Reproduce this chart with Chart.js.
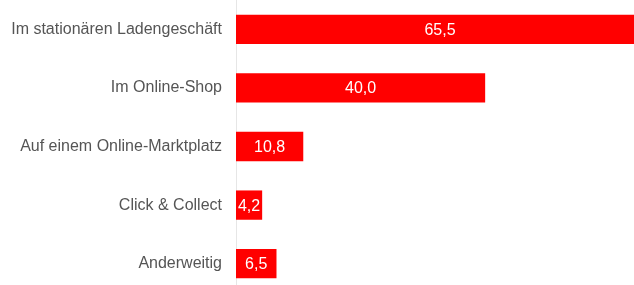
<!DOCTYPE html>
<html>
<head>
<meta charset="utf-8">
<script src="https://cdn.jsdelivr.net/npm/chart.js@4/dist/chart.umd.min.js"></script>
<style>
  html, body { margin: 0; padding: 0; background: #fff; overflow: hidden; }
  #wrap { width: 644px; height: 293px; }
</style>
</head>
<body>
<div id="wrap"><canvas id="chart1" width="644" height="293"></canvas></div>
<script>
// Kanäle und Anteile (%)
var kategorien = ['Im stationären Ladengeschäft', 'Im Online-Shop', 'Auf einem Online-Marktplatz', 'Click & Collect', 'Anderweitig'];
var werte = [65.5, 40.0, 10.8, 4.2, 6.5];

// Werte mittig in die Balken schreiben
var wertLabels = {
  id: 'wertLabels',
  afterDatasetsDraw: function (chart) {
    var ctx = chart.ctx;
    var meta = chart.getDatasetMeta(0);
    ctx.save();
    ctx.fillStyle = '#ffffff';
    ctx.font = '16px "Liberation Sans", Arial, sans-serif';
    ctx.textAlign = 'center';
    ctx.textBaseline = 'middle';
    meta.data.forEach(function (bar, i) {
      var txt = werte[i].toLocaleString('de-DE', { minimumFractionDigits: 1, maximumFractionDigits: 1 });
      ctx.fillText(txt, (bar.base + bar.x) / 2, bar.y + 1);
    });
    ctx.restore();
  }
};

var ctx1 = document.getElementById('chart1').getContext('2d');
var chart1 = new Chart(ctx1, {
  type: 'bar',
  data: {
    labels: kategorien,
    datasets: [{
      data: werte,
      backgroundColor: '#ff0000',
      categoryPercentage: 1,
      barPercentage: 0.5
    }]
  },
  options: {
    indexAxis: 'y',
    responsive: false,
    animation: false,
    layout: { padding: 0 },
    plugins: { legend: { display: false }, tooltip: { enabled: false } },
    scales: {
      x: { display: false, min: 0, max: 65.5 },
      y: {
        afterFit: function (scale) {
          scale.width = 236;
          scale.paddingTop = 0;
          scale.paddingBottom = 0;
        },
        grid: { display: false, drawTicks: false },
        border: { display: true, color: '#e6e6e6', width: 1 },
        ticks: {
          padding: 14,
          color: '#555555',
          font: { family: '"Liberation Sans", Arial, sans-serif', size: 16 }
        }
      }
    }
  },
  plugins: [wertLabels]
});
</script>
</body>
</html>
